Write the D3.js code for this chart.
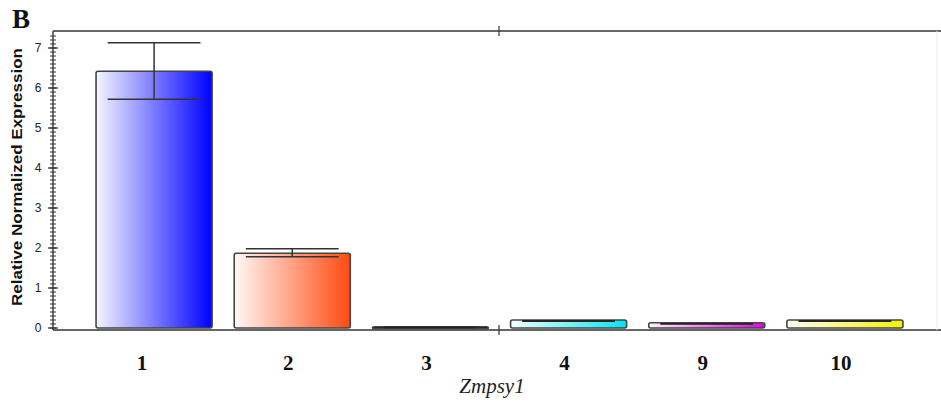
<!DOCTYPE html>
<html>
<head>
<meta charset="utf-8">
<script src="https://cdn.jsdelivr.net/npm/d3@7"></script>
<style>
  body { margin: 0; background: #fff; }
  svg { display: block; }
</style>
</head>
<body>
<div id="chart"></div>
<script>
// data
const samples = ["1", "2", "3", "4", "9", "10"];
const expression = [6.42, 1.87, 0.03, 0.2, 0.13, 0.2];
const errLow = [5.72, 1.78, 0.02, 0.18, 0.12, 0.19];
const errHigh = [7.13, 1.98, 0.04, 0.2, 0.13, 0.2];
const barColors = ["#0000ff", "#ff4a12", "#000000", "#00e5f0", "#e000e0", "#f5f000"];
const yTicks = [0, 1, 2, 3, 4, 5, 6, 7];

const width = 941, height = 405;
const frame = { left: 53, right: 937, top: 31, bottom: 330 };

const svg = d3.select("#chart")
  .append("svg")
  .attr("width", width)
  .attr("height", height);

// scales
const x = d3.scaleBand()
  .domain(samples)
  .range([85, 914])
  .paddingInner(0.16)
  .paddingOuter(0.08);

const y = d3.scaleLinear()
  .domain([0, 7.4])
  .range([328, 32]);

// gradients, pale on the left to full colour on the right
const defs = svg.append("defs");
samples.forEach((s, i) => {
  const g = defs.append("linearGradient")
    .attr("id", "grad" + i)
    .attr("x1", "0%").attr("x2", "100%")
    .attr("y1", "0%").attr("y2", "0%");
  g.append("stop").attr("offset", "0%")
    .attr("stop-color", d3.interpolateRgb("#ffffff", barColors[i])(0.04));
  g.append("stop").attr("offset", "100%")
    .attr("stop-color", barColors[i]);
});

// frame
svg.append("line")
  .attr("x1", frame.left).attr("x2", width)
  .attr("y1", frame.top).attr("y2", frame.top)
  .attr("stroke", "#666").attr("stroke-width", 2);
svg.append("line")
  .attr("x1", frame.left).attr("x2", width)
  .attr("y1", frame.bottom).attr("y2", frame.bottom)
  .attr("stroke", "#666").attr("stroke-width", 2);
svg.append("line")
  .attr("x1", frame.right).attr("x2", frame.right)
  .attr("y1", frame.top).attr("y2", frame.bottom)
  .attr("stroke", "#eee").attr("stroke-width", 1);
// little centre ticks top and bottom
[frame.top, frame.bottom].forEach(yy => {
  svg.append("line")
    .attr("x1", 499).attr("x2", 499)
    .attr("y1", yy - 5).attr("y2", yy + 5)
    .attr("stroke", "#333").attr("stroke-width", 1.2);
});

// y axis with crossing ticks
const minorTicks = d3.range(0, 74).map(d => d / 10);
const yAxisG = svg.append("g").attr("class", "yAxis");
yAxisG.append("line")
  .attr("x1", frame.left).attr("x2", frame.left)
  .attr("y1", frame.top).attr("y2", frame.bottom)
  .attr("stroke", "#444").attr("stroke-width", 1.5);
yAxisG.selectAll(".minor")
  .data(minorTicks)
  .join("line")
  .attr("class", "minor")
  .attr("x1", frame.left - 3).attr("x2", frame.left + 3)
  .attr("y1", d => y(d)).attr("y2", d => y(d))
  .attr("stroke", "#333").attr("stroke-width", 1);
yAxisG.selectAll(".major")
  .data(yTicks)
  .join("line")
  .attr("class", "major")
  .attr("x1", frame.left - 5).attr("x2", frame.left + 5)
  .attr("y1", d => y(d)).attr("y2", d => y(d))
  .attr("stroke", "#333").attr("stroke-width", 1.3);
yAxisG.selectAll("text")
  .data(yTicks)
  .join("text")
  .attr("x", 38)
  .attr("y", d => y(d))
  .attr("dy", "0.35em")
  .attr("text-anchor", "middle")
  .style("font-family", "Liberation Sans, Arial, sans-serif")
  .style("font-size", "12px")
  .attr("fill", "#222")
  .text(d => d);

// y label, stretched along its length like the original
svg.append("text")
  .attr("transform", "translate(22,177) rotate(-90)")
  .attr("text-anchor", "middle")
  .attr("textLength", 258)
  .attr("lengthAdjust", "spacingAndGlyphs")
  .style("font-family", "Liberation Sans, Arial, sans-serif")
  .style("font-size", "14px")
  .style("font-weight", "bold")
  .attr("fill", "#111")
  .text("Relative Normalized Expression");

// bars
const bars = svg.append("g").attr("class", "bars");
bars.selectAll("rect")
  .data(samples)
  .join("rect")
  .attr("x", d => x(d))
  .attr("width", x.bandwidth())
  .attr("y", (d, i) => y(expression[i]))
  .attr("height", (d, i) => Math.max(y(0) - y(expression[i]), 2))
  .attr("rx", 2)
  .attr("fill", (d, i) => i === 2 ? "#111" : `url(#grad${i})`)
  .attr("stroke", "#444")
  .attr("stroke-width", 1.6);

// error bars
const errG = svg.append("g").attr("class", "errors");
const capHalf = x.bandwidth() * 0.4;
samples.forEach((s, i) => {
  const cx = x(s) + x.bandwidth() / 2;
  if (errHigh[i] - errLow[i] < 0.05) {
    errG.append("line")
      .attr("x1", cx - capHalf).attr("x2", cx + capHalf)
      .attr("y1", y(errHigh[i]) + 1).attr("y2", y(errHigh[i]) + 1)
      .attr("stroke", "#222").attr("stroke-width", 1.8);
    return;
  }
  errG.append("line")
    .attr("x1", cx).attr("x2", cx)
    .attr("y1", y(errHigh[i])).attr("y2", y(errLow[i]))
    .attr("stroke", "#333").attr("stroke-width", 1.5);
  [errHigh[i], errLow[i]].forEach(v => {
    errG.append("line")
      .attr("x1", cx - capHalf).attr("x2", cx + capHalf)
      .attr("y1", y(v)).attr("y2", y(v))
      .attr("stroke", "#333").attr("stroke-width", 1.5);
  });
});

// x labels
svg.append("g")
  .selectAll("text")
  .data(samples)
  .join("text")
  .attr("x", d => x(d) + x.bandwidth() / 2 - (d === "1" ? 12 : 4))
  .attr("y", 370)
  .attr("text-anchor", "middle")
  .style("font-family", "Liberation Serif, 'Times New Roman', serif")
  .style("font-size", "21px")
  .style("font-weight", "bold")
  .attr("fill", "#111")
  .text(d => d);

svg.append("text")
  .attr("x", 492)
  .attr("y", 393)
  .attr("text-anchor", "middle")
  .style("font-family", "Liberation Serif, 'Times New Roman', serif")
  .style("font-size", "21px")
  .style("font-style", "italic")
  .attr("fill", "#222")
  .text("Zmpsy1");

// panel letter
svg.append("text")
  .attr("x", 12)
  .attr("y", 28)
  .style("font-family", "Liberation Serif, 'Times New Roman', serif")
  .style("font-size", "27px")
  .style("font-weight", "bold")
  .attr("fill", "#111")
  .text("B");
</script>
</body>
</html>
